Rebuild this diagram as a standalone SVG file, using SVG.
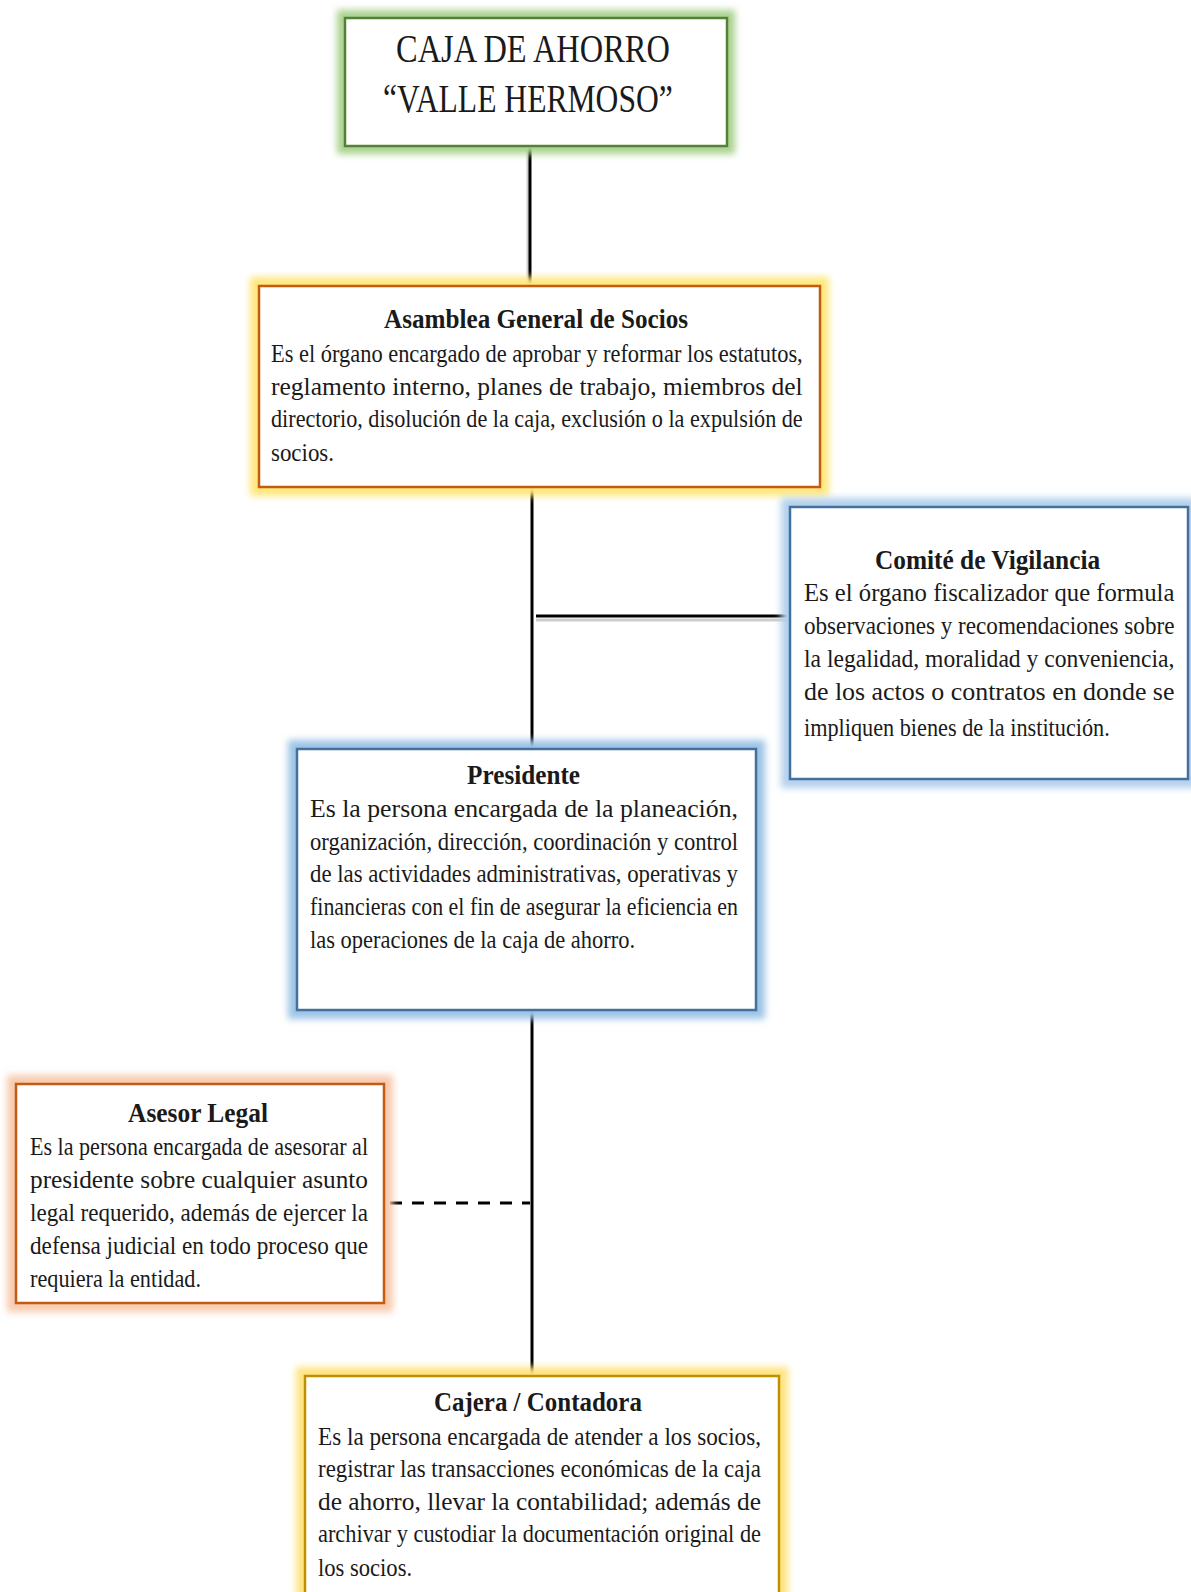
<svg xmlns="http://www.w3.org/2000/svg" width="1191" height="1592" viewBox="0 0 1191 1592">
  <style>
    .box { fill: #ffffff; stroke-width: 2.5; }
    .title { font-family: "Liberation Serif", "Times New Roman", serif; font-weight: bold; font-size: 27px; fill: #1a1a1a; }
    .body { font-family: "Liberation Serif", "Times New Roman", serif; font-size: 26px; fill: #1a1a1a; }
    .head { font-family: "Liberation Serif", "Times New Roman", serif; font-size: 40px; fill: #1a1a1a; }
    .link { stroke: #000000; stroke-width: 3; fill: none; }
    .shade { stroke: #b8b8b8; stroke-width: 3; fill: none; opacity: 0.7; }
  </style>
  <defs>
    <filter id="glow" x="-10%" y="-10%" width="120%" height="120%">
      <feGaussianBlur stdDeviation="3.5"/>
    </filter>
  </defs>

  <rect width="1191" height="1592" fill="#ffffff"/>

  <!-- connectors -->
  <g id="connectors">
    <line class="shade" x1="528" y1="150" x2="528" y2="286"/>
    <line class="link" x1="530" y1="146" x2="530" y2="286"/>
    <line class="link" x1="532" y1="487" x2="532" y2="749"/>
    <line class="shade" x1="536" y1="620" x2="787" y2="620"/>
    <line class="link" x1="536" y1="616" x2="787" y2="616"/>
    <line class="link" x1="532" y1="1010" x2="532" y2="1376"/>
    <line class="link" x1="390" y1="1203" x2="530" y2="1203" stroke-dasharray="12 10"/>
  </g>

  <!-- top node -->
  <g id="caja">
    <rect x="337" y="10" width="398" height="144" fill="#a9d18e" filter="url(#glow)"/>
    <rect class="box" x="345" y="18" width="382" height="128" stroke="#548235"/>
    <g transform="matrix(0.84 0 0 1 383 0)">
      <text class="head" x="15.5" y="62" textLength="326" lengthAdjust="spacingAndGlyphs">CAJA DE AHORRO</text>
      <text class="head" x="0" y="112" textLength="345" lengthAdjust="spacingAndGlyphs">“VALLE HERMOSO”</text>
    </g>
  </g>

  <!-- general assembly -->
  <g id="asamblea">
    <rect x="250" y="277" width="579" height="219" fill="#ffe77a" filter="url(#glow)"/>
    <rect class="box" x="259" y="286" width="561" height="201" stroke="#c55a11"/>
    <g transform="matrix(0.84 0 0 1 271 0)">
      <text class="title" x="134.5" y="328" textLength="362" lengthAdjust="spacingAndGlyphs">Asamblea General de Socios</text>
      <text class="body" x="0" y="362" textLength="633" lengthAdjust="spacingAndGlyphs">Es el órgano encargado de aprobar y reformar los estatutos,</text>
      <text class="body" x="0" y="395" textLength="633" lengthAdjust="spacingAndGlyphs">reglamento   interno,   planes   de   trabajo,   miembros   del</text>
      <text class="body" x="0" y="427" textLength="633" lengthAdjust="spacingAndGlyphs">directorio, disolución de la caja, exclusión o la expulsión de</text>
      <text class="body" x="0" y="461" textLength="75" lengthAdjust="spacingAndGlyphs">socios.</text>
    </g>
  </g>

  <!-- oversight committee -->
  <g id="comite">
    <rect x="781" y="498" width="416" height="290" fill="#b4d0ec" filter="url(#glow)"/>
    <rect class="box" x="790" y="507" width="398" height="272" stroke="#41719c"/>
    <g transform="matrix(0.84 0 0 1 804 0)">
      <text class="title" x="84.5" y="569" textLength="268" lengthAdjust="spacingAndGlyphs">Comité de Vigilancia</text>
      <text class="body" x="0" y="601" textLength="441" lengthAdjust="spacingAndGlyphs">Es  el  órgano  fiscalizador  que  formula</text>
      <text class="body" x="0" y="634" textLength="441" lengthAdjust="spacingAndGlyphs">observaciones y recomendaciones sobre</text>
      <text class="body" x="0" y="667" textLength="441" lengthAdjust="spacingAndGlyphs">la  legalidad,  moralidad  y  conveniencia,</text>
      <text class="body" x="0" y="700" textLength="441" lengthAdjust="spacingAndGlyphs">de  los  actos  o  contratos  en  donde  se</text>
      <text class="body" x="0" y="736" textLength="364" lengthAdjust="spacingAndGlyphs">impliquen bienes de la institución.</text>
    </g>
  </g>

  <!-- president -->
  <g id="presidente">
    <rect x="288" y="740" width="477" height="279" fill="#9dc3e6" filter="url(#glow)"/>
    <rect class="box" x="297" y="749" width="459" height="261" stroke="#41719c"/>
    <g transform="matrix(0.84 0 0 1 310 0)">
      <text class="title" x="187" y="784" textLength="134.5" lengthAdjust="spacingAndGlyphs">Presidente</text>
      <text class="body" x="0" y="817" textLength="509.5" lengthAdjust="spacingAndGlyphs">Es  la  persona  encargada  de  la  planeación,</text>
      <text class="body" x="0" y="850" textLength="509.5" lengthAdjust="spacingAndGlyphs">organización, dirección, coordinación y control</text>
      <text class="body" x="0" y="882" textLength="509.5" lengthAdjust="spacingAndGlyphs">de las actividades administrativas, operativas y</text>
      <text class="body" x="0" y="915" textLength="509.5" lengthAdjust="spacingAndGlyphs">financieras con el fin de asegurar la eficiencia en</text>
      <text class="body" x="0" y="948" textLength="387" lengthAdjust="spacingAndGlyphs">las operaciones de la caja de ahorro.</text>
    </g>
  </g>

  <!-- legal advisor -->
  <g id="asesor">
    <rect x="7" y="1075" width="386" height="237" fill="#f8cbad" filter="url(#glow)"/>
    <rect class="box" x="16" y="1084" width="368" height="219" stroke="#c55a11"/>
    <g transform="matrix(0.84 0 0 1 30 0)">
      <text class="title" x="116.7" y="1122" textLength="166.7" lengthAdjust="spacingAndGlyphs">Asesor Legal</text>
      <text class="body" x="0" y="1155" textLength="402.4" lengthAdjust="spacingAndGlyphs">Es la persona encargada de asesorar al</text>
      <text class="body" x="0" y="1188" textLength="402.4" lengthAdjust="spacingAndGlyphs">presidente   sobre   cualquier   asunto</text>
      <text class="body" x="0" y="1221" textLength="402.4" lengthAdjust="spacingAndGlyphs">legal requerido,  además  de ejercer   la</text>
      <text class="body" x="0" y="1254" textLength="402.4" lengthAdjust="spacingAndGlyphs">defensa  judicial  en  todo  proceso  que</text>
      <text class="body" x="0" y="1287" textLength="203.6" lengthAdjust="spacingAndGlyphs">requiera la entidad.</text>
    </g>
  </g>

  <!-- cashier / accountant -->
  <g id="cajera">
    <rect x="296" y="1367" width="492" height="240" fill="#ffe380" filter="url(#glow)"/>
    <rect class="box" x="305" y="1376" width="474" height="225" stroke="#bf9000"/>
    <g transform="matrix(0.84 0 0 1 318 0)">
      <text class="title" x="138" y="1411" textLength="247.6" lengthAdjust="spacingAndGlyphs">Cajera / Contadora</text>
      <text class="body" x="0" y="1445" textLength="527.4" lengthAdjust="spacingAndGlyphs">Es la persona encargada de atender a los socios,</text>
      <text class="body" x="0" y="1477" textLength="527.4" lengthAdjust="spacingAndGlyphs">registrar las transacciones  económicas de la caja</text>
      <text class="body" x="0" y="1510" textLength="527.4" lengthAdjust="spacingAndGlyphs">de   ahorro,   llevar   la   contabilidad;   además   de</text>
      <text class="body" x="0" y="1542" textLength="527.4" lengthAdjust="spacingAndGlyphs">archivar y custodiar la documentación original de</text>
      <text class="body" x="0" y="1576" textLength="112" lengthAdjust="spacingAndGlyphs">los socios.</text>
    </g>
  </g>
</svg>
